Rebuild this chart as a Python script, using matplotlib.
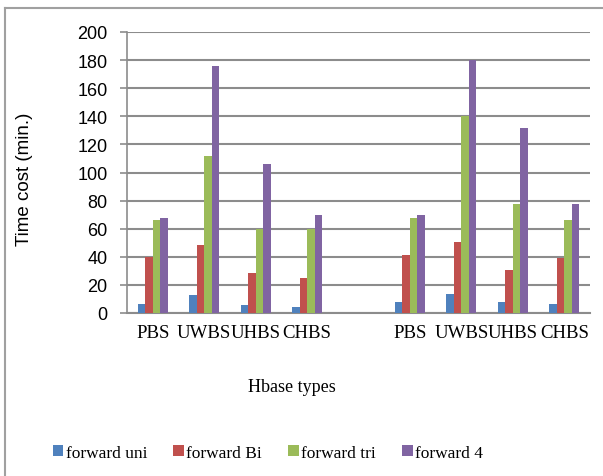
import matplotlib
matplotlib.use("Agg")
import matplotlib.pyplot as plt
from matplotlib.lines import Line2D
import numpy as np

# categories (empty slot separates the two groups)
categorias = ["PBS", "UWBS", "UHBS", "CHBS", "", "PBS", "UWBS", "UHBS", "CHBS"]

# time cost (min.), None = no bar
forward_uni = [6.4, 12.6, 5.5, 4.0, None, 7.6, 13.8, 7.6, 6.4]
forward_bi = [40, 48.5, 28.3, 24.7, None, 41.3, 50.8, 30.4, 39.4]
forward_tri = [66.5, 112, 60, 60, None, 67.7, 140, 77.4, 66.5]
forward_4 = [67.7, 175.8, 106.2, 70, None, 70, 180, 131.6, 77.4]

series = [
    ("forward uni", forward_uni, "#4F81BD"),
    ("forward Bi", forward_bi, "#C0504D"),
    ("forward tri", forward_tri, "#9BBB59"),
    ("forward 4", forward_4, "#8064A2"),
]

W, H = 603, 477
fig = plt.figure(figsize=(W / 100, H / 100), dpi=100)
ax = fig.add_axes([127 / W, 1 - 314 / H, (590 - 127) / W, (314 - 33) / H])

x = np.arange(len(categorias))
largura = 0.146
for i, (nome, valores, cor) in enumerate(series):
    xs = [xi + (i - 1.5) * largura for xi, v in zip(x, valores) if v is not None]
    vs = [v for v in valores if v is not None]
    ax.bar(xs, vs, width=largura, color=cor, label=nome, zorder=3)

ax.set_xlim(-0.5, len(categorias) - 0.5)
ax.set_ylim(0, 200)
ax.set_yticks(range(0, 201, 20))
ax.set_xticks(x)
ax.set_xticklabels(categorias, family="Liberation Serif", fontsize=13.5)
ax.tick_params(axis="x", length=0, pad=8)
ax.tick_params(axis="y", length=5, width=1.2, color="#8c8c8c", pad=9, labelsize=13)
for t in ax.get_yticklabels():
    t.set_family("Liberation Sans")

ax.grid(axis="y", color="#8c8c8c", linewidth=1.5, zorder=0)
for lado in ["top", "right"]:
    ax.spines[lado].set_visible(False)
ax.spines["left"].set_color("#8c8c8c")
ax.spines["left"].set_linewidth(1.2)
ax.spines["bottom"].set_color("#8c8c8c")
ax.spines["bottom"].set_linewidth(1.5)

ax.set_ylabel("Time cost (min.)", family="Liberation Sans", fontsize=13.5)
ax.yaxis.set_label_coords(-0.203, 0.48)

fig.text(292 / W, 1 - 388 / H, "Hbase types", family="Liberation Serif",
         fontsize=13, ha="center", va="center")

fig.legend(loc="center", bbox_to_anchor=(268 / W, 1 - 454 / H), ncol=4,
           frameon=False, prop={"family": "Liberation Serif", "size": 12.5},
           handlelength=0.6, handleheight=0.6, handletextpad=0.15,
           columnspacing=1.5)

# moldura externa (top and left edges visible)
fig.add_artist(Line2D([5 / W, 5 / W], [0, 1 - 9 / H], transform=fig.transFigure,
                      color="#a0a0a0", linewidth=1.5))
fig.add_artist(Line2D([5 / W, 1], [1 - 9 / H, 1 - 9 / H], transform=fig.transFigure,
                      color="#a0a0a0", linewidth=1.5))

fig.savefig("out.png", dpi=100)
